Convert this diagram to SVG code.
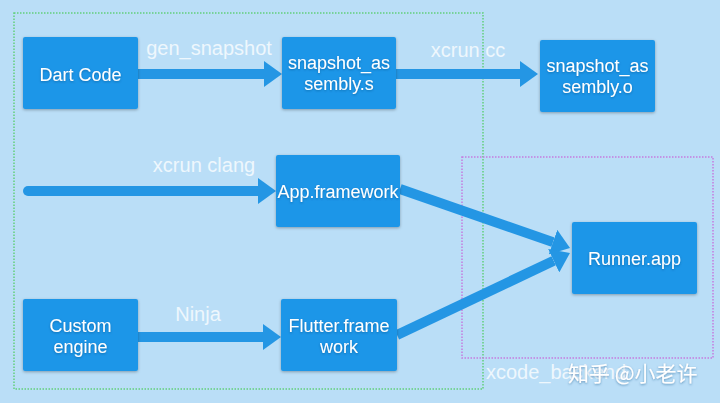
<svg xmlns="http://www.w3.org/2000/svg" width="720" height="403" viewBox="0 0 720 403">
<defs>
<style>
.box{fill:#1e96e8;}
.nt{font-family:"Liberation Sans",Arial,sans-serif;font-size:18px;fill:#ffffff;text-anchor:middle;}
.lb{font-family:"Liberation Sans",Arial,sans-serif;font-size:20px;fill:#eef7fd;text-anchor:middle;}
.ar{stroke:#2496e4;stroke-width:10;fill:none;}
</style>
<filter id="sh" x="-10%" y="-10%" width="120%" height="130%">
<feDropShadow dx="0" dy="1" stdDeviation="1.5" flood-color="#000" flood-opacity="0.3"/>
</filter>
<filter id="ts" x="-10%" y="-20%" width="120%" height="140%">
<feDropShadow dx="0" dy="1" stdDeviation="0.8" flood-color="#0a4a80" flood-opacity="0.5"/>
</filter>
<marker id="ah" markerUnits="userSpaceOnUse" markerWidth="18" markerHeight="26" refX="0" refY="13" orient="auto">
<path d="M0,0 L18,13 L0,26 Z" fill="#2496e4"/>
</marker>
</defs>
<rect width="720" height="403" fill="#badef7"/>
<g id="groups">
<rect x="14" y="13" width="469" height="376" fill="none" stroke="#62d07c" stroke-width="1.5" stroke-dasharray="1.5 1.5"/>
<rect x="462" y="157" width="251" height="201" fill="none" stroke="#c57ce0" stroke-width="1.5" stroke-dasharray="1.5 1.5"/>
</g>
<g id="connectors">
<line class="ar" x1="138" y1="74" x2="264" y2="74" marker-end="url(#ah)"/>
<line class="ar" x1="396" y1="74" x2="520" y2="74" marker-end="url(#ah)"/>
<line class="ar" x1="28" y1="191" x2="258" y2="191" stroke-linecap="round" marker-end="url(#ah)"/>
<line class="ar" x1="138" y1="337" x2="263" y2="337" marker-end="url(#ah)"/>
<line class="ar" x1="400" y1="189" x2="553" y2="242.1" marker-end="url(#ah)"/>
<line class="ar" x1="397" y1="335" x2="553.7" y2="260.7" marker-end="url(#ah)"/>
<text class="lb" x="209" y="55">gen_snapshot</text>
<text class="lb" x="468" y="57">xcrun cc</text>
<text class="lb" x="204" y="172">xcrun clang</text>
<text class="lb" x="198" y="321">Ninja</text>
</g>
<g id="dart-code">
<rect class="box" x="23" y="37" width="115" height="72" rx="2" filter="url(#sh)"/>
<text class="nt" x="80.5" y="81" filter="url(#ts)">Dart Code</text>
</g>
<g id="snapshot-s">
<rect class="box" x="282" y="37" width="114" height="72" rx="2" filter="url(#sh)"/>
<text class="nt" x="339" y="69" filter="url(#ts)">snapshot_as</text>
<text class="nt" x="339" y="90" filter="url(#ts)">sembly.s</text>
</g>
<g id="snapshot-o">
<rect class="box" x="540" y="40" width="115" height="72" rx="2" filter="url(#sh)"/>
<text class="nt" x="597.5" y="72" filter="url(#ts)">snapshot_as</text>
<text class="nt" x="597.5" y="93" filter="url(#ts)">sembly.o</text>
</g>
<g id="app-framework">
<rect class="box" x="276" y="155" width="124" height="72" rx="2" filter="url(#sh)"/>
<text class="nt" x="338" y="198" filter="url(#ts)">App.framework</text>
</g>
<g id="runner-app">
<rect class="box" x="572" y="222" width="125" height="72" rx="2" filter="url(#sh)"/>
<text class="nt" x="634.5" y="265" filter="url(#ts)">Runner.app</text>
</g>
<g id="custom-engine">
<rect class="box" x="23" y="299" width="115" height="72" rx="2" filter="url(#sh)"/>
<text class="nt" x="80.5" y="332" filter="url(#ts)">Custom</text>
<text class="nt" x="80.5" y="353" filter="url(#ts)">engine</text>
</g>
<g id="flutter-framework">
<rect class="box" x="281" y="299" width="116" height="72" rx="2" filter="url(#sh)"/>
<text class="nt" x="339" y="332" filter="url(#ts)">Flutter.frame</text>
<text class="nt" x="339" y="353" filter="url(#ts)">work</text>
</g>
<g id="xcode-label">
<text class="lb" x="486" y="379" style="text-anchor:start">xcode_backend</text>
</g>
<g id="watermark">
<text x="568" y="381" font-family="'Noto Sans CJK SC','Noto Sans',sans-serif" font-size="21" fill="#ffffff" filter="url(#ts)">知乎 @小老许</text>
</g>
</svg>
